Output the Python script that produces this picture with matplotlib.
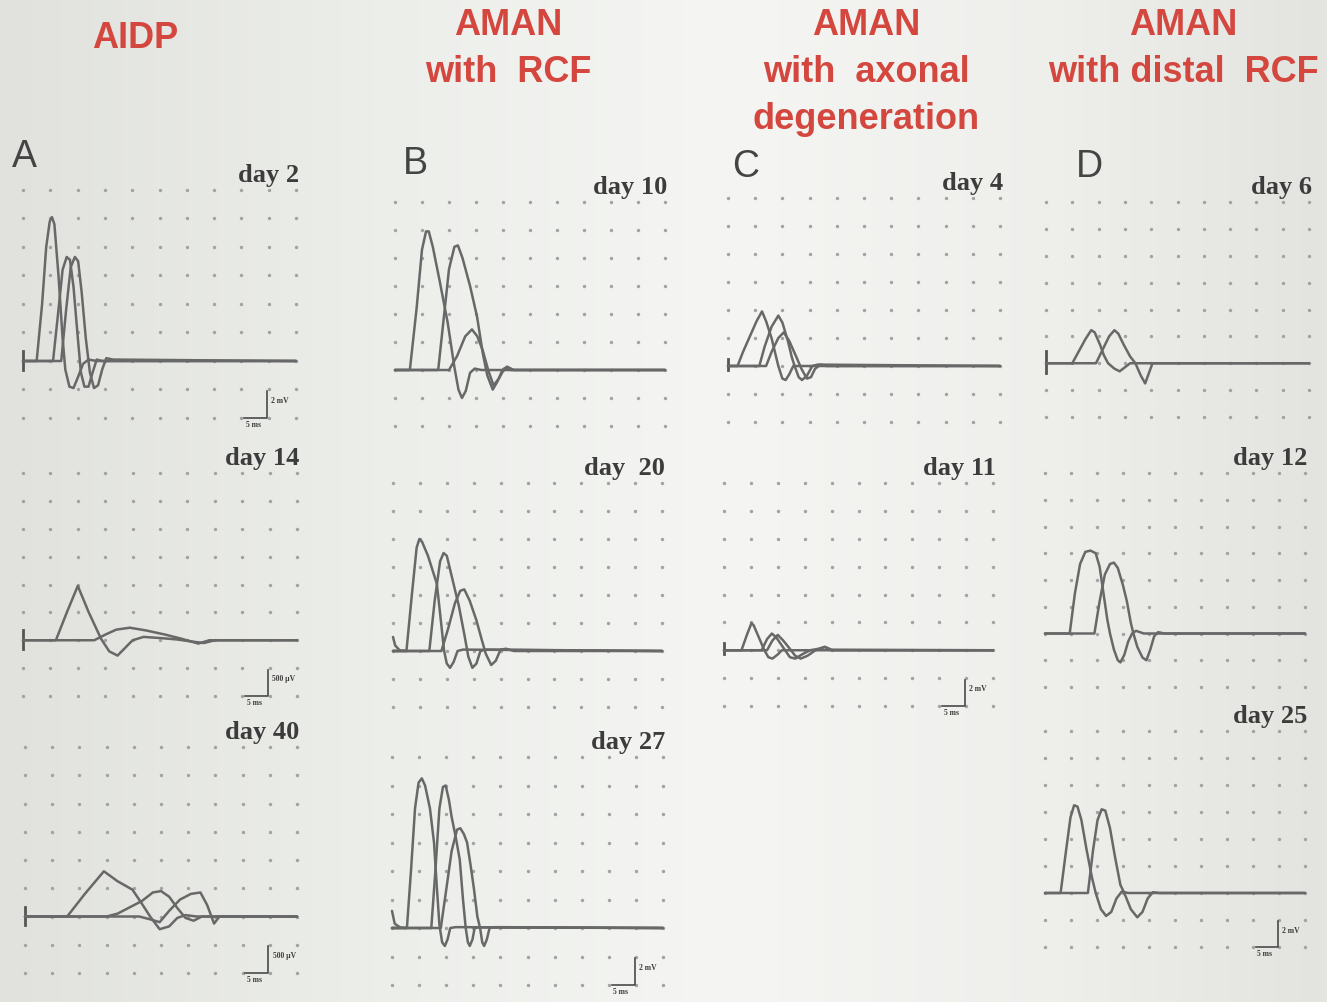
import matplotlib
matplotlib.use('Agg')
import matplotlib.pyplot as plt
import numpy as np
from matplotlib.colors import LinearSegmentedColormap

W, H = 1327, 1002

# ---------------- data (x in grid divisions after stimulus, y in divisions) -------------
titles = ["AIDP", "AMAN\nwith  RCF", "AMAN\nwith  axonal\ndegeneration", "AMAN\nwith distal  RCF"]
letters = ["A", "B", "C", "D"]

# Column A (AIDP)
A1_day = "day 2"
A1_tr1 = [(0,0),(0.5,0),(0.7,2.0),(0.85,4.0),(0.98,4.9),(1.06,5.05),(1.15,4.8),(1.3,3.0),(1.45,0.8),(1.55,-0.3),(1.7,-0.9),(1.85,-0.95),(2.0,-0.6),(2.2,-0.1),(2.4,0.05),(2.7,0),(10,0)]
A1_tr2 = [(0,0),(1.1,0),(1.3,1.8),(1.45,3.2),(1.6,3.65),(1.72,3.55),(1.85,2.6),(2.0,0.9),(2.12,-0.4),(2.25,-0.9),(2.4,-0.9),(2.55,-0.4),(2.7,0.05),(2.9,0),(10,0)]
A1_tr3 = [(0,0),(1.4,0),(1.58,1.8),(1.75,3.3),(1.9,3.65),(2.02,3.5),(2.15,2.4),(2.3,0.8),(2.45,-0.4),(2.6,-0.95),(2.75,-0.85),(2.9,-0.3),(3.05,0.1),(3.3,0.05),(10,0)]
A1_bar = "2 mV"

A2_day = "day 14"
A2_tr1 = [(0,0),(1.2,0),(1.6,1.0),(2.0,1.95),(2.4,1.0),(2.85,0.05),(3.15,-0.4),(3.45,-0.55),(3.7,-0.3),(4.0,0.0),(4.4,0.12),(5.0,0.08),(5.6,0.03),(6.2,-0.05),(6.6,-0.1),(7.0,0),(10,0)]
A2_tr2 = [(0,0),(2.6,0),(3.0,0.2),(3.4,0.38),(3.9,0.45),(4.5,0.35),(5.2,0.2),(5.8,0.05),(6.4,-0.12),(6.8,0),(10,0)]
A2_bar = "500 µV"

A3_day = "day 40"
A3_tr1 = [(0,0),(1.55,0),(2.2,0.8),(2.9,1.6),(3.4,1.25),(3.95,0.95),(4.3,0.45),(4.6,0.0),(4.95,-0.45),(5.3,-0.35),(5.6,-0.05),(5.9,0.05),(6.3,0),(10,0)]
A3_tr2 = [(0,0),(3.0,0),(3.4,0.1),(3.8,0.3),(4.3,0.55),(4.7,0.85),(5.0,0.9),(5.3,0.7),(5.6,0.3),(5.9,-0.05),(6.2,-0.15),(6.5,0),(10,0)]
A3_tr3 = [(0,0),(4.2,0),(4.6,-0.1),(4.95,-0.2),(5.3,0.2),(5.7,0.6),(6.1,0.8),(6.45,0.85),(6.7,0.4),(6.95,-0.25),(7.15,0),(10,0)]
A3_bar = "500 µV"

# Column B (AMAN with RCF)
B1_day = "day 10"
B1_tr1 = [(0,0),(0.55,0),(0.8,2.2),(1.0,4.3),(1.15,4.95),(1.25,4.95),(1.4,4.4),(1.65,3.2),(1.95,1.7),(2.2,0.1),(2.35,-0.7),(2.48,-1.0),(2.62,-0.75),(2.78,-0.1),(2.95,0.05),(3.2,0),(10,0)]
B1_tr2 = [(0,0),(1.6,0),(1.8,1.8),(2.0,3.6),(2.2,4.4),(2.33,4.45),(2.5,4.0),(2.78,3.0),(3.04,1.9),(3.25,0.6),(3.42,-0.2),(3.62,-0.7),(3.8,-0.4),(3.98,0.0),(4.15,0.12),(4.4,0),(10,0)]
B1_tr3 = [(0,0),(2.0,0),(2.3,0.5),(2.6,1.2),(2.85,1.45),(3.05,1.2),(3.25,0.7),(3.45,0.0),(3.65,-0.55),(3.85,-0.3),(4.05,0.05),(4.3,0),(10,0)]

B2_day = "day  20"
B2_art = [(0,0.5),(0.08,0.2),(0.25,0.02),(0.5,0)]
B2_tr1 = [(0,0),(0.5,0),(0.7,2.0),(0.88,3.7),(0.98,4.0),(1.08,3.9),(1.3,3.4),(1.63,2.4),(1.8,0.9),(1.9,0.0),(2.0,-0.45),(2.12,-0.6),(2.25,-0.4),(2.4,0.0),(2.6,0.05),(10,0)]
B2_tr2 = [(0,0),(1.35,0),(1.55,1.8),(1.75,3.2),(1.88,3.5),(2.0,3.4),(2.2,2.6),(2.45,1.6),(2.65,0.6),(2.8,-0.2),(2.95,-0.6),(3.1,-0.45),(3.25,0.0),(3.45,0.05),(10,0)]
B2_tr3 = [(0,0),(1.8,0),(2.05,0.8),(2.3,1.7),(2.5,2.15),(2.65,2.2),(2.85,1.8),(3.1,1.1),(3.3,0.4),(3.45,-0.1),(3.65,-0.5),(3.82,-0.35),(4.0,0.05),(4.2,0.08),(4.5,0),(10,0)]

B3_day = "day 27"
B3_art = [(0,0.6),(0.1,0.15),(0.3,0.02),(0.5,0)]
B3_tr1 = [(0,0),(0.55,0),(0.7,2.0),(0.85,4.2),(0.98,5.1),(1.1,5.25),(1.22,5.0),(1.4,4.2),(1.55,3.0),(1.65,1.5),(1.75,0.1),(1.85,-0.5),(1.95,-0.63),(2.05,-0.4),(2.15,0.0),(2.35,0.03),(10,0)]
B3_tr2 = [(0,0),(1.45,0),(1.6,2.0),(1.75,4.2),(1.88,4.95),(1.98,5.0),(2.1,4.5),(2.2,3.9),(2.35,3.2),(2.5,2.4),(2.62,1.0),(2.72,0.0),(2.8,-0.5),(2.87,-0.63),(2.97,-0.4),(3.05,0.0),(3.2,0.02),(10,0)]
B3_tr3 = [(0,0),(1.8,0),(1.98,1.2),(2.2,2.7),(2.4,3.45),(2.52,3.5),(2.65,3.3),(2.77,3.0),(2.9,2.2),(3.02,1.4),(3.15,0.4),(3.25,0.0),(3.33,-0.5),(3.4,-0.63),(3.5,-0.4),(3.6,0.0),(3.8,0.03),(10,0)]
B3_bar = "2 mV"

# Column C (AMAN with axonal degeneration)
C1_day = "day 4"
C1_tr1 = [(0,0),(0.35,0),(0.55,0.5),(0.8,1.05),(1.05,1.6),(1.25,1.95),(1.4,1.6),(1.6,1.0),(1.75,0.4),(1.85,0),(2.0,-0.45),(2.12,-0.5),(2.25,-0.3),(2.4,0),(10,0)]
C1_tr2 = [(0,0),(1.15,0),(1.35,0.7),(1.6,1.4),(1.85,1.8),(2.0,1.55),(2.2,0.9),(2.35,0.3),(2.45,0),(2.6,-0.4),(2.72,-0.5),(2.9,-0.35),(3.1,0),(3.3,0.05),(10,0)]
C1_tr3 = [(0,0),(1.4,0),(1.6,0.5),(1.85,1.0),(2.05,1.2),(2.25,0.9),(2.5,0.35),(2.7,-0.1),(2.9,-0.45),(3.05,-0.4),(3.2,-0.1),(3.4,0.05),(3.6,0),(10,0)]

C2_day = "day 11"
C2_tr1 = [(0,0),(0.65,0),(0.85,0.55),(1.02,0.97),(1.1,0.9),(1.3,0.45),(1.5,0),(1.65,-0.25),(1.8,-0.3),(2.0,-0.15),(2.15,0),(10,0)]
C2_tr2 = [(0,0),(1.4,0),(1.6,0.4),(1.78,0.6),(1.95,0.45),(2.2,0.1),(2.45,-0.25),(2.65,-0.3),(2.9,-0.15),(3.2,0),(3.5,0.05),(3.75,0.12),(4.0,0),(10,0)]
C2_tr3 = [(0,0),(1.6,0),(1.8,0.35),(2.0,0.55),(2.2,0.35),(2.45,0.05),(2.65,-0.2),(2.85,-0.3),(3.1,-0.2),(3.4,0),(3.75,0.12),(4.0,0.02),(10,0)]
C2_bar = "2 mV"

# Column D (AMAN with distal RCF)
D1_day = "day 6"
D1_tr1 = [(0,0),(1.0,0),(1.25,0.45),(1.5,0.9),(1.72,1.23),(1.85,1.15),(2.05,0.7),(2.2,0.3),(2.36,0),(2.6,-0.2),(2.8,-0.3),(3.0,-0.15),(3.2,0),(10,0)]
D1_tr2 = [(0,0),(1.9,0),(2.15,0.5),(2.4,1.0),(2.6,1.23),(2.75,1.1),(2.95,0.7),(3.2,0.25),(3.4,0),(3.6,-0.45),(3.77,-0.75),(3.9,-0.4),(4.05,0),(10,0)]

D2_day = "day 12"
D2_tr1 = [(0,0),(0.95,0),(1.15,1.5),(1.35,2.6),(1.55,3.05),(1.75,3.1),(1.95,3.0),(2.1,2.5),(2.25,1.5),(2.4,0.5),(2.5,0),(2.65,-0.6),(2.8,-1.0),(2.9,-1.08),(3.05,-0.8),(3.2,-0.3),(3.35,0),(3.5,0.1),(3.8,0),(10,0)]
D2_tr2 = [(0,0),(1.9,0),(2.1,1.2),(2.3,2.2),(2.5,2.6),(2.65,2.65),(2.8,2.45),(3.0,1.8),(3.15,1.2),(3.3,0.4),(3.4,0),(3.55,-0.5),(3.75,-0.9),(3.9,-1.0),(4.05,-0.6),(4.2,-0.1),(4.35,0.05),(4.6,0),(10,0)]

D3_day = "day 25"
D3_tr1 = [(0,0),(0.6,0),(0.8,1.5),(0.98,2.8),(1.12,3.25),(1.25,3.2),(1.4,2.7),(1.6,1.6),(1.8,0.6),(1.95,0),(2.15,-0.6),(2.35,-0.85),(2.55,-0.7),(2.75,-0.2),(2.95,0.05),(3.2,0),(10,0)]
D3_tr2 = [(0,0),(1.65,0),(1.85,1.6),(2.02,2.7),(2.18,3.1),(2.32,3.05),(2.5,2.4),(2.7,1.3),(2.9,0.3),(3.05,0),(3.3,-0.6),(3.55,-0.9),(3.75,-0.7),(3.95,-0.2),(4.15,0.03),(4.4,0),(10,0)]
D3_bar = "2 mV"

# ---------------- styling ---------------------------------------------------------------
title_color = "#d4473f"
trace_color = "#686868"
dot_color = "#a2a2a2"
text_color = "#3c3c3c"
grid_cols = np.arange(0, 11)
grid_rows = np.arange(-2, 7)

fig = plt.figure(figsize=(W / 100, H / 100), dpi=100)

# photographic background tone
bg = fig.add_axes([0, 0, 1, 1], zorder=-10)
bg_cmap = LinearSegmentedColormap.from_list(
    "bg", [(0, "#e1e2de"), (0.28, "#eceeea"), (0.55, "#f5f6f3"), (0.8, "#eeefeb"), (1, "#e3e4e0")])
bg.imshow(np.linspace(0, 1, 256)[None, :], aspect="auto", cmap=bg_cmap, extent=[0, 1, 0, 1])
bg.set_xlim(0, 1); bg.set_ylim(0, 1)
bg.axis("off")


def panel(x0, x1, ytop, ybot):
    """pixel positions of first/last dot column and top/bottom dot row"""
    ax = fig.add_axes([x0 / W, 1 - ybot / H, (x1 - x0) / W, (ybot - ytop) / H])
    ax.set_xlim(0, 10)
    ax.set_ylim(-2, 6)
    ax.axis("off")
    gx, gy = np.meshgrid(grid_cols, grid_rows)
    ax.scatter(gx.ravel(), gy.ravel(), s=6, c=dot_color, lw=0, clip_on=False, zorder=1)
    return ax


def trace(ax, pts, lw=1.8):
    xs = [p[0] for p in pts]
    ys = [p[1] for p in pts]
    ax.plot(xs, ys, color=trace_color, lw=lw, clip_on=False, solid_joinstyle="round",
            solid_capstyle="round", zorder=3)


def stim(ax, lo=-0.3, hi=0.35):
    ax.plot([0, 0], [lo, hi], color="#555555", lw=2.0, clip_on=False, zorder=3)


def day_label(ax, txt):
    ax.text(10.1, 6.12, txt, ha="right", va="bottom", fontsize=19, fontweight="bold",
            family="Liberation Serif", color=text_color, clip_on=False)


def scale_bar(ax, lab):
    ax.plot([8.1, 8.95, 8.95], [-2, -2, -1.05], color="#4a4a4a", lw=1.2, clip_on=False, zorder=4)
    ax.text(9.1, -1.4, lab, ha="left", va="center", fontsize=5.5, fontweight="bold",
            family="Liberation Serif", color=text_color, clip_on=False)
    ax.text(8.45, -2.12, "5 ms", ha="center", va="top", fontsize=5.5, fontweight="bold",
            family="Liberation Serif", color=text_color, clip_on=False)


# ---- Column A
ax = panel(23, 296, 190, 418)
stim(ax); [trace(ax, t) for t in (A1_tr1, A1_tr2, A1_tr3)]
day_label(ax, A1_day); scale_bar(ax, A1_bar)

ax = panel(23, 297, 473, 696)
stim(ax); [trace(ax, t) for t in (A2_tr1, A2_tr2)]
day_label(ax, A2_day); scale_bar(ax, A2_bar)

ax = panel(25, 297, 747, 973)
stim(ax); [trace(ax, t) for t in (A3_tr1, A3_tr2, A3_tr3)]
day_label(ax, A3_day); scale_bar(ax, A3_bar)

# ---- Column B
ax = panel(395, 665, 202, 426)
[trace(ax, t) for t in (B1_tr1, B1_tr2, B1_tr3)]
day_label(ax, B1_day)

ax = panel(393, 662, 483, 707)
trace(ax, B2_art); [trace(ax, t) for t in (B2_tr1, B2_tr2, B2_tr3)]
day_label(ax, B2_day)

ax = panel(392, 663, 757, 985)
trace(ax, B3_art); [trace(ax, t) for t in (B3_tr1, B3_tr2, B3_tr3)]
day_label(ax, B3_day); scale_bar(ax, B3_bar)

# ---- Column C
ax = panel(728, 1000, 198, 422)
stim(ax, -0.15, 0.25); [trace(ax, t) for t in (C1_tr1, C1_tr2, C1_tr3)]
day_label(ax, C1_day)

ax = panel(724, 993, 483, 706)
stim(ax, -0.15, 0.25); [trace(ax, t) for t in (C2_tr1, C2_tr2, C2_tr3)]
day_label(ax, C2_day); scale_bar(ax, C2_bar)

# ---- Column D
ax = panel(1046, 1309, 202, 417)
stim(ax, -0.35, 0.45); [trace(ax, t) for t in (D1_tr1, D1_tr2)]
day_label(ax, D1_day)

ax = panel(1045, 1305, 473, 687)
[trace(ax, t) for t in (D2_tr1, D2_tr2)]
day_label(ax, D2_day)

ax = panel(1045, 1305, 731, 947)
[trace(ax, t) for t in (D3_tr1, D3_tr2)]
day_label(ax, D3_day); scale_bar(ax, D3_bar)

# ---- column titles and panel letters
title_pos = [(135, 21), (508, 8), (866, 8), (1183, 8)]
for (tx, ty), t in zip(title_pos, titles):
    fig.text(tx / W, 1 - ty / H, t, ha="center", va="top", fontsize=26, fontweight="bold",
             family="Liberation Sans", color=title_color, linespacing=1.45)

letter_pos = [(12, 157), (403, 164), (732, 167), (1076, 167)]
for (lx, ly), l in zip(letter_pos, letters):
    fig.text(lx / W, 1 - ly / H, l, ha="left", va="center", fontsize=27,
             family="Liberation Sans", color="#444444")

fig.savefig("out.png", dpi=100)
